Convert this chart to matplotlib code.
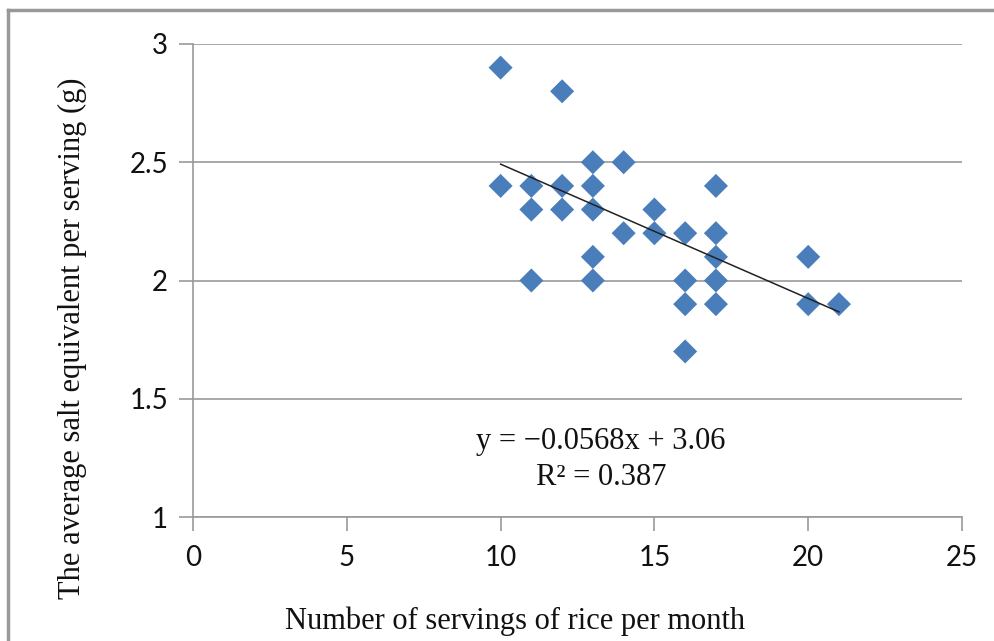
import matplotlib
matplotlib.use("Agg")
import matplotlib.pyplot as plt
from matplotlib.lines import Line2D
import numpy as np

# Data
servings = [10, 12, 10, 11, 12, 13, 13, 14, 11, 12, 13, 15, 14, 15, 16, 17, 17, 17,
            13, 11, 13, 16, 17, 20, 16, 17, 20, 21, 16]
salt = [2.9, 2.8, 2.4, 2.4, 2.4, 2.5, 2.4, 2.5, 2.3, 2.3, 2.3, 2.3, 2.2, 2.2, 2.2, 2.4, 2.2, 2.1,
        2.1, 2.0, 2.0, 2.0, 2.0, 2.1, 1.9, 1.9, 1.9, 1.9, 1.7]
slope = -0.0568
intercept = 3.06
r2 = 0.387
x_ticks = [0, 5, 10, 15, 20, 25]
y_ticks = [1, 1.5, 2, 2.5, 3]
y_tick_labels = ["1", "1.5", "2", "2.5", "3"]

W, H = 995, 641
fig = plt.figure(figsize=(W / 100, H / 100), dpi=100)

# axes placement in pixels
left, right, top, bottom = 193, 962, 44, 517
ax = fig.add_axes([left / W, 1 - bottom / H, (right - left) / W, (bottom - top) / H])

ax.set_xlim(0, 25)
ax.set_ylim(1, 3)
ax.set_xticks(x_ticks)
ax.set_yticks(y_ticks)
ax.set_yticklabels(y_tick_labels)
ax.grid(axis="y", color="#999999", linewidth=1.2)
ax.set_axisbelow(True)
for s in ["top", "right"]:
    ax.spines[s].set_visible(False)
for s in ["left", "bottom"]:
    ax.spines[s].set_color("#999999")
    ax.spines[s].set_linewidth(1.2)
ax.tick_params(axis="both", direction="out", length=10, width=1.2, color="#999999",
               labelsize=20, labelcolor="#111111")
ax.tick_params(axis="x", pad=10)
ax.tick_params(axis="y", pad=8)
for lab in ax.get_xticklabels() + ax.get_yticklabels():
    lab.set_fontfamily("Lato")

ax.scatter(servings, salt, marker="D", s=150, color="#4A7EBB", edgecolors="none", zorder=3)

xs = np.array([min(servings), max(servings)])
ax.plot(xs, slope * xs + intercept, color="#222222", linewidth=1.1, zorder=4)

eq_x = 13.27
ax.text(eq_x, 1.32, "y = \u22120.0568x + 3.06", ha="center", va="center",
        family="Liberation Serif", fontsize=22, color="#111111")
ax.text(eq_x, 1.165, "R\u00b2 = 0.387", ha="center", va="center",
        family="Liberation Serif", fontsize=22, color="#111111")

fig.text(515 / W, 1 - 621 / H, "Number of servings of rice per month", ha="center", va="center",
         family="Liberation Serif", fontsize=22, color="#111111")
fig.text(72 / W, 1 - 338 / H, "The average salt equivalent per serving (g)", ha="center",
         va="center", rotation=90, family="Liberation Serif", fontsize=22, color="#111111")

# outer frame (top and left edges)
fig.add_artist(Line2D([8 / W, 8 / W], [0, 1 - 10 / H], transform=fig.transFigure,
                      color="#999999", linewidth=2.5))
fig.add_artist(Line2D([8 / W, 1], [1 - 10 / H, 1 - 10 / H], transform=fig.transFigure,
                      color="#999999", linewidth=2.5))

fig.savefig("out.png", dpi=100)
